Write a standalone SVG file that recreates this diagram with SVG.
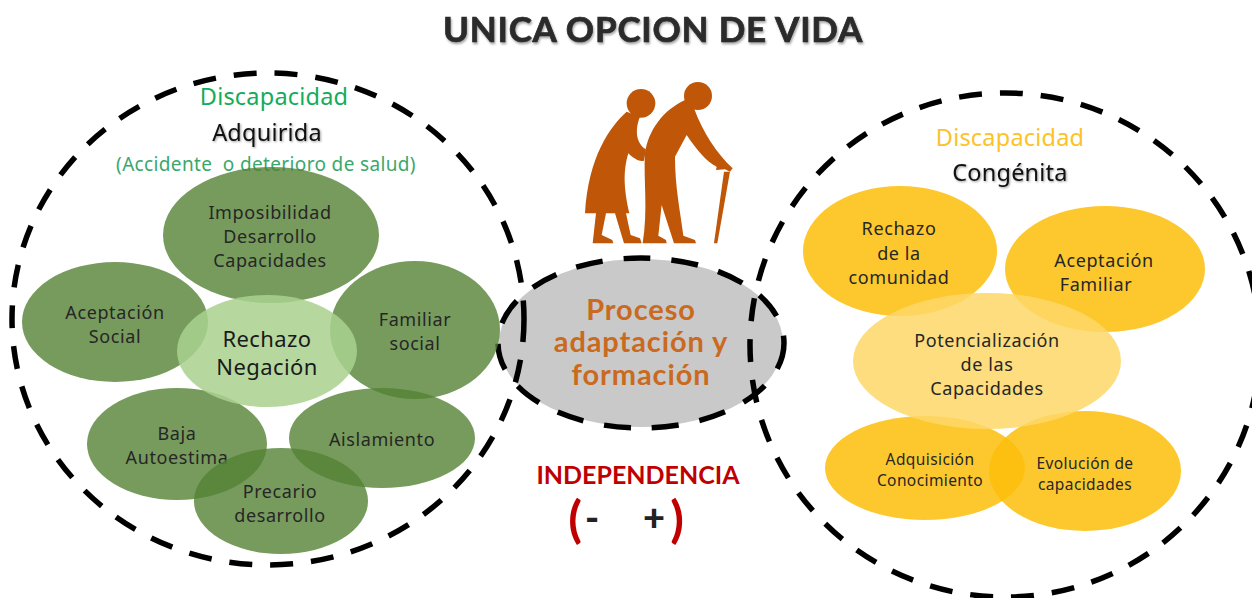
<svg xmlns="http://www.w3.org/2000/svg" width="1252" height="598" viewBox="0 0 1252 598">
<style>
text{font-family:"Noto Sans","Open Sans","DejaVu Sans",sans-serif;text-anchor:middle;font-size:18px;fill:#262626;letter-spacing:.6px;white-space:pre}
.small{font-size:15.5px;letter-spacing:.4px}
.big{font-size:22px;letter-spacing:.4px;fill:#1a1a1a}
.head{font-size:23.5px;letter-spacing:.2px}
.hd{fill:#111;filter:drop-shadow(1px 1px 1px rgba(0,0,0,.4))}
.proc{font-family:"Lato",sans-serif;font-size:29px;font-weight:700;fill:#c96a1f;letter-spacing:.9px}
.dash{fill:none;stroke:#000;stroke-width:5.5;stroke-dasharray:23 18}
.dash2{fill:none;stroke:#000;stroke-width:5.5;stroke-dasharray:27 21}
.g{fill:#548235;fill-opacity:.8}
.y{fill:#fdbf0c;fill-opacity:.86}
.sil{fill:#bf5608}
.br{font-family:"Lato",sans-serif;font-size:50px;font-weight:700;fill:#c00000;letter-spacing:0}
.pm{font-family:"Lato",sans-serif;font-size:38px;font-weight:900;fill:#222;letter-spacing:0}
</style>
<rect width="1252" height="598" fill="#fff"/>
<g id="title"><text x="653" y="42" style="font-family:Lato,sans-serif;font-size:35px;font-weight:700;fill:#2b2b2b;stroke:#2b2b2b;stroke-width:.7;letter-spacing:.8px;filter:drop-shadow(1px 2px 1px rgba(0,0,0,.35))">UNICA OPCION DE VIDA</text></g>
<g id="figures" class="sil" transform="translate(560,70) scale(.3333)">
<circle cx="243" cy="100" r="43"/>
<path d="M200,125C150,170 85,260 75,430L108,430L98,520L160,520L157,510L125,495L138,430L165,430L192,520L245,520L240,505L212,495L198,430L208,430C190,350 190,300 205,250C225,270 240,275 252,272L258,238C235,225 220,190 240,140Z"/>
<circle cx="414" cy="78" r="42"/>
<path d="M375,90C310,120 265,180 255,250C250,330 265,420 248,520L320,520L318,510L295,497L305,405L342,520L408,520L405,510L370,497C360,420 345,350 345,260L380,195C410,240 440,275 470,290L468,300L495,298L510,305L518,295C470,250 430,190 402,115Z"/>
<path d="M492,305L510,305L472,520L462,520Z"/>
</g>
<g id="node-adaptacion">
<ellipse cx="641" cy="343" rx="142" ry="84" fill="#c9c9c9"/>
<ellipse class="dash2" cx="641" cy="343" rx="143" ry="85"/>
<text class="proc" x="641" y="320">Proceso</text>
<text class="proc" x="641" y="352">adaptación y</text>
<text class="proc" x="641" y="385">formación</text>
</g>
<g id="group-adquirida">
<ellipse class="dash" cx="268" cy="319" rx="256" ry="246"/>
<text class="head" x="274" y="105" style="fill:#12ad5a">Discapacidad</text>
<text class="head hd" x="267" y="141">Adquirida</text>
<text x="266" y="171" style="font-size:19px;letter-spacing:.35px;fill:#3aa76d">(Accidente  o deterioro de salud)</text>
</g>
<g id="node-imposibilidad"><ellipse class="g" cx="271" cy="235" rx="108" ry="68"/>
<text x="270" y="219">Imposibilidad</text><text x="270" y="243">Desarrollo</text><text x="270" y="267">Capacidades</text></g>
<g id="node-aceptacion-social"><ellipse class="g" cx="115" cy="322" rx="93" ry="60"/>
<text x="115" y="319">Aceptación</text><text x="115" y="343">Social</text></g>
<g id="node-familiar-social"><ellipse class="g" cx="415" cy="330" rx="85" ry="69"/>
<text x="415" y="326">Familiar</text><text x="415" y="350">social</text></g>
<g id="node-baja"><ellipse class="g" cx="177" cy="444" rx="90" ry="56"/>
<text x="177" y="440">Baja</text><text x="177" y="464">Autoestima</text></g>
<g id="node-aislamiento"><ellipse class="g" cx="382" cy="438" rx="93" ry="50"/>
<text x="382" y="446">Aislamiento</text></g>
<g id="node-precario"><ellipse class="g" cx="281" cy="501" rx="87" ry="53"/>
<text x="280" y="498">Precario</text><text x="280" y="522">desarrollo</text></g>
<g id="node-rechazo-negacion"><ellipse cx="267" cy="351" rx="90" ry="56" fill="#a9d18e" fill-opacity=".85"/>
<text class="big" x="267" y="347">Rechazo</text><text class="big" x="267" y="375">Negación</text></g>
<g id="group-congenita">
<ellipse class="dash" cx="1005" cy="345" rx="255" ry="252"/>
<text class="head" x="1010" y="146" style="fill:#fcc22a">Discapacidad</text>
<text class="head hd" x="1010" y="181">Congénita</text>
</g>
<g id="node-rechazo-comunidad"><ellipse class="y" cx="900" cy="251" rx="97" ry="65"/>
<text x="899" y="235">Rechazo</text><text x="899" y="260">de la</text><text x="899" y="284">comunidad</text></g>
<g id="node-aceptacion-familiar"><ellipse class="y" cx="1105" cy="269" rx="100" ry="63"/>
<text x="1104" y="267">Aceptación</text><text x="1096" y="291">Familiar</text></g>
<g id="node-adquisicion"><ellipse class="y" cx="925" cy="468" rx="100" ry="52"/>
<text class="small" x="930" y="465">Adquisición</text><text class="small" x="930" y="486">Conocimiento</text></g>
<g id="node-evolucion"><ellipse class="y" cx="1085" cy="471" rx="96" ry="60"/>
<text class="small" x="1085" y="469">Evolución de</text><text class="small" x="1085" y="490">capacidades</text></g>
<g id="node-potencializacion"><ellipse cx="987" cy="361" rx="134" ry="68" fill="#fdd768" fill-opacity=".86"/>
<text x="987" y="347">Potencialización</text><text x="987" y="371">de las</text><text x="987" y="395">Capacidades</text></g>
<g id="independencia">
<text x="638" y="484" style="font-family:Lato,sans-serif;font-size:25px;font-weight:700;fill:#c00000;letter-spacing:0">INDEPENDENCIA</text>
<text class="br" x="575" y="537">(</text>
<text class="pm" x="592" y="531">-</text>
<text class="pm" x="654" y="531">+</text>
<text class="br" x="677" y="537">)</text>
</g>
<g id="connectors"></g>
</svg>
